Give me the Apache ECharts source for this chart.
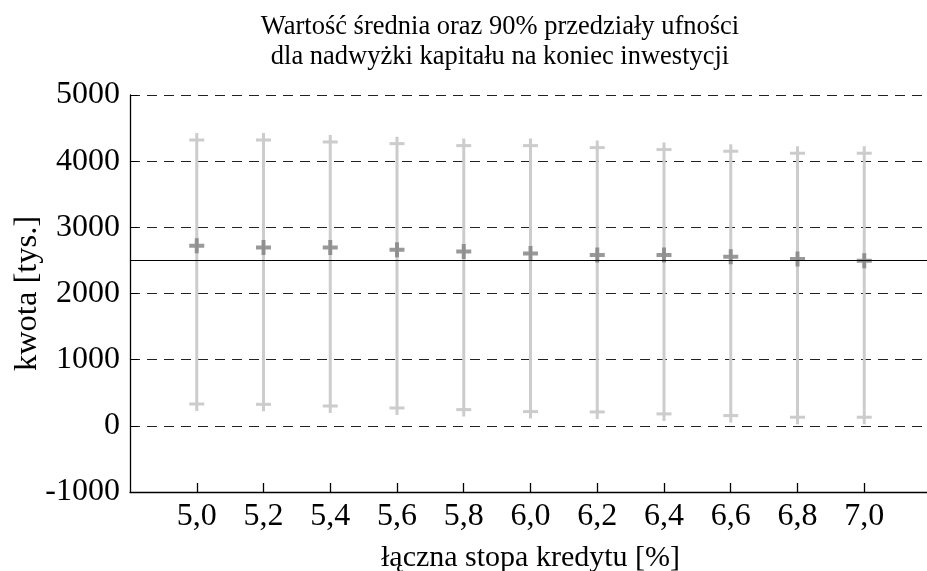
<!DOCTYPE html>
<html>
<head>
<meta charset="utf-8">
<script src="https://cdn.jsdelivr.net/npm/echarts@6/dist/echarts.min.js"></script>
<style>
html,body{margin:0;padding:0;background:#fff;}
#chart{width:927px;height:571px;}
</style>
</head>
<body>
<div id="chart"></div>
<script>
// Data
const rates = [5.0, 5.2, 5.4, 5.6, 5.8, 6.0, 6.2, 6.4, 6.6, 6.8, 7.0];
const rateLabels = ['5,0','5,2','5,4','5,6','5,8','6,0','6,2','6,4','6,6','6,8','7,0'];
const means = [2720, 2695, 2695, 2660, 2635, 2605, 2580, 2580, 2555, 2520, 2495];
const upper = [4320, 4320, 4290, 4265, 4235, 4235, 4205, 4175, 4150, 4120, 4120];
const lower = [330, 325, 300, 270, 245, 215, 210, 180, 155, 130, 130];
const threshold = 2500;

const FONT = '"Liberation Serif", "DejaVu Serif", serif';

const barData = rates.map((r, i) => [r, lower[i], upper[i]]);
const meanData = rates.map((r, i) => [r, means[i]]);

function renderBar(params, api) {
  const x = api.value(0), lo = api.value(1), hi = api.value(2);
  const pHi = api.coord([x, hi]);
  const pLo = api.coord([x, lo]);
  const cap = 7.5, ext = 7;
  const style = { stroke: '#cccccc', lineWidth: 3, fill: null };
  return {
    type: 'group',
    children: [
      { type: 'line', shape: { x1: pHi[0], y1: pHi[1] - ext, x2: pLo[0], y2: pLo[1] + ext }, style: style },
      { type: 'line', shape: { x1: pHi[0] - cap, y1: pHi[1], x2: pHi[0] + cap, y2: pHi[1] }, style: style },
      { type: 'line', shape: { x1: pLo[0] - cap, y1: pLo[1], x2: pLo[0] + cap, y2: pLo[1] }, style: style }
    ]
  };
}

const chart = echarts.init(document.getElementById('chart'), null, { renderer: 'canvas' });
chart.setOption({
  animation: false,
  backgroundColor: '#ffffff',
  title: {
    text: 'Wartość średnia oraz 90% przedziały ufności\ndla nadwyżki kapitału na koniec inwestycji',
    left: 500,
    top: 12,
    padding: 0,
    textAlign: 'center',
    textStyle: { fontFamily: FONT, fontSize: 26.5, fontWeight: 'normal', color: '#000', lineHeight: 30 }
  },
  grid: { left: 130, top: 95, width: 801, bottom: 79, containLabel: false, outerBoundsMode: 'none' },
  xAxis: {
    type: 'value',
    min: 4.8,
    max: 7.2,
    interval: 0.2,
    name: 'łączna stopa kredytu [%]',
    nameLocation: 'middle',
    nameGap: 51,
    nameMoveOverlap: false,
    nameTextStyle: { fontFamily: FONT, fontSize: 30, color: '#000' },
    axisLine: { show: true, onZero: false, lineStyle: { color: '#000', width: 1.3 } },
    axisTick: { show: true, inside: true, length: 9, customValues: rates, lineStyle: { color: '#000', width: 1.3 } },
    axisLabel: {
      show: true,
      customValues: rates,
      margin: 9,
      fontFamily: FONT, fontSize: 32, color: '#000',
      formatter: function (v) { const i = rates.findIndex(r => Math.abs(r - v) < 1e-6); return i >= 0 ? rateLabels[i] : ''; }
    },
    splitLine: { show: false }
  },
  yAxis: {
    type: 'value',
    min: -1000,
    max: 5000,
    interval: 1000,
    name: 'kwota [tys.]',
    nameLocation: 'middle',
    nameRotate: 90,
    nameGap: 86,
    nameMoveOverlap: false,
    nameTextStyle: { fontFamily: FONT, fontSize: 32.5, color: '#000' },
    axisLine: { show: true, onZero: false, lineStyle: { color: '#000', width: 1.3 } },
    axisTick: { show: true, inside: true, length: 8, lineStyle: { color: '#000', width: 1 } },
    axisLabel: { margin: 10, fontFamily: FONT, fontSize: 32, color: '#000', formatter: function (v) { return String(v); } },
    splitLine: { show: true, lineStyle: { color: '#222', width: 1, type: [10, 7] } }
  },
  series: [
    {
      type: 'custom',
      renderItem: renderBar,
      data: barData,
      encode: { x: 0, y: [1, 2] },
      z: 2,
      silent: true
    },
    {
      type: 'scatter',
      data: meanData,
      symbol: 'path://M5.5,0h4v5.5h5.5v4h-5.5v5.5h-4v-5.5h-5.5v-4h5.5z',
      symbolSize: 15,
      itemStyle: { color: '#7f7f7f' },
      z: 4,
      silent: true,
      markLine: {
        silent: true,
        symbol: 'none',
        label: { show: false },
        lineStyle: { color: '#000', type: 'solid', width: 1.2 },
        data: [{ yAxis: threshold }]
      }
    }
  ]
});
</script>
</body>
</html>
